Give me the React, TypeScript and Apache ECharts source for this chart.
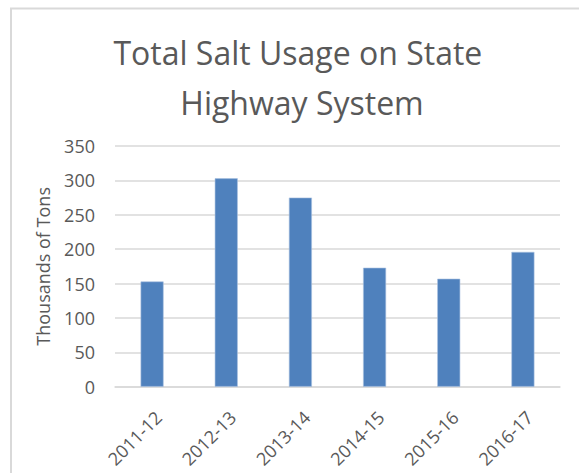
import React, { useEffect, useRef } from "react";
import * as echarts from "echarts";

const titleLines = ["Total Salt Usage on State ", "Highway System"];
const categories = ["2011-12", "2012-13", "2013-14", "2014-15", "2015-16", "2016-17"];
const saltUsage = [153, 303, 275, 173, 157, 196];
const yAxisName = "Thousands of Tons";

export default function App() {
  const ref = useRef<HTMLDivElement>(null);
  useEffect(() => {
    if (!ref.current) return;
    const chart = echarts.init(ref.current, null, { renderer: "svg" });
    const font = "'Open Sans', sans-serif";
    chart.setOption({
      animation: false,
      backgroundColor: "#ffffff",
      title: {
        text: titleLines.join("\n"),
        left: 297,
        textAlign: "center",
        top: 22,
        textStyle: {
          fontFamily: font,
          fontSize: 32,
          fontWeight: "normal",
          color: "#595959",
          lineHeight: 50,
        },
      },
      graphic: [
        {
          type: "rect",
          shape: { x: 11, y: 8.5, width: 700, height: 600 },
          style: { fill: "none", stroke: "#d9d9d9", lineWidth: 2 },
          silent: true,
        },
      ],
      grid: { left: 115, right: 19, top: 146, bottom: 86.3, containLabel: false },
      xAxis: {
        type: "category",
        data: categories,
        axisLine: { lineStyle: { color: "#d9d9d9", width: 1.5 } },
        axisTick: { show: false },
        axisLabel: {
          rotate: 45,
          margin: 21,
          verticalAlign: "top",
          lineHeight: 18,
          fontFamily: font,
          fontSize: 18,
          color: "#595959",
        },
      },
      yAxis: {
        type: "value",
        min: 0,
        max: 350,
        interval: 50,
        name: yAxisName,
        nameLocation: "middle",
        nameGap: 63,
        nameTextStyle: { fontFamily: font, fontSize: 18, color: "#595959" },
        axisLine: { show: false },
        axisTick: { show: false },
        axisLabel: { margin: 20, fontFamily: font, fontSize: 18, color: "#595959" },
        splitLine: { lineStyle: { color: "#d9d9d9", width: 1.5 } },
      },
      series: [
        {
          type: "bar",
          data: saltUsage,
          barWidth: 23,
          itemStyle: { color: "#4f81bd", borderColor: "#a9c1e0", borderWidth: 0.6 },
        },
      ],
    });
    return () => chart.dispose();
  }, []);
  return (
    <div
      ref={ref}
      style={{ position: "fixed", left: 0, top: 0, width: 579, height: 473 }}
    />
  );
}
